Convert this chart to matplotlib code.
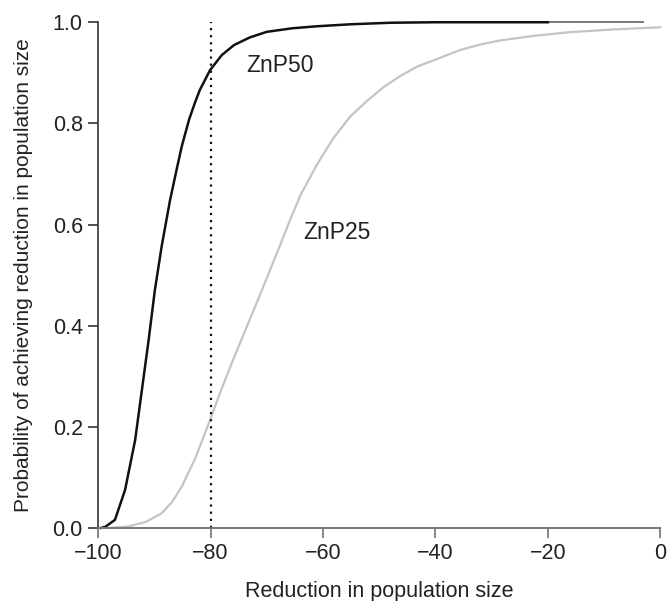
import matplotlib.pyplot as plt

plt.rcParams['font.family'] = ['Liberation Sans', 'DejaVu Sans']

# ZnP50 curve
znp50_x = [-99.5, -98.75, -97.0, -95.2, -93.4, -92.2, -91.0, -89.9, -88.7, -87.2,
           -86.0, -85.1, -83.8, -82.7, -81.9, -80.1, -78.0, -75.8, -73.0, -70.0,
           -65.5, -61.1, -55.0, -48.0, -40.0, -30.0, -20.0]
znp50_y = [0.0, 0.002, 0.016, 0.075, 0.174, 0.273, 0.372, 0.47, 0.556, 0.648,
           0.71, 0.755, 0.808, 0.843, 0.866, 0.905, 0.935, 0.955, 0.970, 0.981,
           0.988, 0.992, 0.996, 0.999, 1.0, 1.0, 1.0]
# faint continuation at the top
tail_x = [-20.0, -3.0]
tail_y = [1.0, 1.0]

# ZnP25 curve
znp25_x = [-98.0, -94.6, -91.5, -88.7, -86.8, -85.1, -82.7, -80.1, -78.0, -75.6,
           -73.5, -70.5, -67.6, -66.0, -64.0, -61.1, -58.2, -55.2, -52.1, -49.2,
           -46.2, -43.3, -39.1, -35.6, -32.0, -28.5, -22.5, -16.5, -8.0, 0.0]
znp25_y = [0.0, 0.003, 0.012, 0.029, 0.052, 0.082, 0.138, 0.213, 0.276, 0.343,
           0.399, 0.48, 0.56, 0.605, 0.658, 0.718, 0.77, 0.813, 0.845, 0.872,
           0.894, 0.912, 0.930, 0.945, 0.956, 0.964, 0.973, 0.980, 0.986, 0.99]

threshold = -80

fig = plt.figure(figsize=(6.67, 6.01), dpi=100)
ax = fig.add_axes([0.147, 0.1215, 0.843, 0.8415])

ax.plot(znp25_x, znp25_y, color='#c4c4c4', lw=1.6, clip_on=False)
ax.plot(tail_x, tail_y, color='#7a7a7a', lw=1.4, clip_on=False)
ax.plot(znp50_x, znp50_y, color='#111111', lw=1.8, clip_on=False)
ax.plot([threshold, threshold], [0, 1], color='#111111', lw=1.6,
        linestyle=(0, (1, 2.2)), clip_on=False)

ax.text(-67.6, 0.915, 'ZnP50', fontsize=16.5, ha='center', va='center',
        color='#222222')
ax.text(-57.5, 0.585, 'ZnP25', fontsize=16.5, ha='center', va='center',
        color='#222222')

ax.set_xlim(-100, 0)
ax.set_ylim(0, 1)
ax.set_xticks([-100, -80, -60, -40, -20, 0])
ax.set_xticklabels(['\u2212100', '\u221280', '\u221260', '\u221240', '\u221220', '0'])
ax.set_yticks([0, 0.2, 0.4, 0.6, 0.8, 1.0])
ax.set_yticklabels(['0.0', '0.2', '0.4', '0.6', '0.8', '1.0'])

for s in ['top', 'right']:
    ax.spines[s].set_visible(False)
ax.spines['left'].set_color('#333333')
ax.spines['bottom'].set_color('#777777')
ax.spines['left'].set_linewidth(1.2)
ax.spines['bottom'].set_linewidth(1.4)
ax.tick_params(axis='both', direction='out', length=7, width=1.1,
               labelsize=15.5, colors='#222222', pad=4)
ax.tick_params(axis='x', colors='#666666', labelcolor='#222222')

ax.set_xlabel('Reduction in population size', fontsize=15.5, color='#222222',
              labelpad=12)
ax.set_ylabel('Probability of achieving reduction in population size',
              fontsize=15, color='#222222', labelpad=14)

fig.savefig('out.png', dpi=100, facecolor='white')
